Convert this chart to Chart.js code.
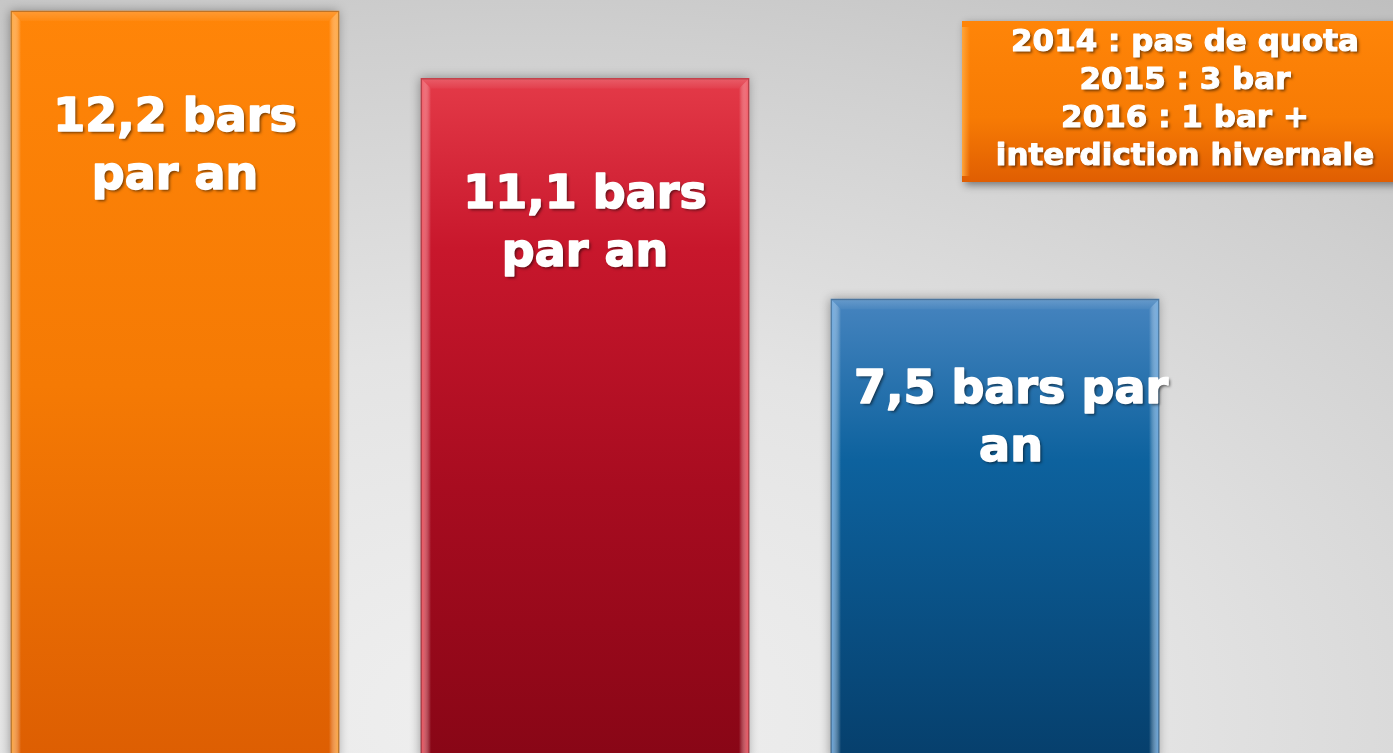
<!DOCTYPE html>
<html>
<head>
<meta charset="utf-8">
<script src="https://cdn.jsdelivr.net/npm/chart.js@4.4.1/dist/chart.umd.min.js"></script>
<style>
html, body {
    margin: 0;
    padding: 0;
    width: 1393px;
    height: 753px;
    overflow: hidden;
    background: radial-gradient(ellipse 110% 120% at 38% 95%, #f0f0f0 0%, #e4e4e4 40%, #cfcfcf 75%, #bdbdbd 100%);
}
#wrap {
    position: relative;
    width: 1393px;
    height: 759px;
}
</style>
</head>
<body>
<div id="wrap"><canvas id="barsChart" width="1393" height="759"></canvas></div>
<script>
// data
const years = ["2014", "2015", "2016"];
const barsPerYear = [12.2, 11.1, 7.5];
const barLabels = [
    ["12,2 bars", "par an"],
    ["11,1 bars", "par an"],
    ["7,5 bars par", "an"]
];
const noteLines = [
    "2014 : pas de quota",
    "2015 : 3 bar",
    "2016 : 1 bar +",
    "interdiction hivernale"
];

// styles
const barGradients = [
    [[0, "#ff8508"], [0.5, "#f57a04"], [1, "#dd5e02"]],
    [[0, "#e43a48"], [0.25, "#c8172c"], [0.6, "#a80c20"], [1, "#880616"]],
    [[0, "#4684bf"], [0.35, "#0d629e"], [1, "#063f6c"]]
];
const edgeColors = ["#ffa53a", "#f2505c", "#68a6de"];
const labelBaselines = [120, 130, 104]; // px below bar top
const labelShiftX = [0, 0, 16];
const labelLineGap = 58;

const ctx = document.getElementById("barsChart");

function barFill(context){
    const chart = context.chart;
    const area = chart.chartArea;
    if (!area) return "#888";
    const i = context.dataIndex;
    const yTop = chart.scales.y.getPixelForValue(barsPerYear[i]);
    const g = chart.ctx.createLinearGradient(0, yTop, 0, area.bottom);
    barGradients[i].forEach(s => g.addColorStop(s[0], s[1]));
    return g;
}

function boldText(c, text, x, y){
    c.fillText(text, x, y);
    c.shadowColor = "transparent";
    c.strokeText(text, x, y);
}

const bevelPlugin = {
    id: "bevel",
    beforeDatasetDraw(chart){
        const c = chart.ctx;
        c.save();
        c.shadowColor = "rgba(0,0,0,0.35)";
        c.shadowBlur = 10;
        c.shadowOffsetX = -1;
        c.shadowOffsetY = 0;
    },
    afterDatasetDraw(chart){
        const c = chart.ctx;
        c.restore();
        const meta = chart.getDatasetMeta(0);
        meta.data.forEach((bar, i) => {
            const left = bar.x - bar.width / 2;
            const right = bar.x + bar.width / 2;
            const top = bar.y;
            const bottom = bar.base;
            const b = 10;
            c.save();
            // side edges
            let g = c.createLinearGradient(left, 0, left + b, 0);
            g.addColorStop(0, edgeColors[i]);
            g.addColorStop(1, "rgba(255,255,255,0)");
            c.fillStyle = g;
            c.beginPath();
            c.moveTo(left, top);
            c.lineTo(left + b, top + b);
            c.lineTo(left + b, bottom);
            c.lineTo(left, bottom);
            c.closePath();
            c.fill();
            g = c.createLinearGradient(right, 0, right - b, 0);
            g.addColorStop(0, edgeColors[i]);
            g.addColorStop(1, "rgba(255,255,255,0)");
            c.fillStyle = g;
            c.beginPath();
            c.moveTo(right, top);
            c.lineTo(right - b, top + b);
            c.lineTo(right - b, bottom);
            c.lineTo(right, bottom);
            c.closePath();
            c.fill();
            // top edge
            g = c.createLinearGradient(0, top, 0, top + b);
            g.addColorStop(0, "rgba(255,255,255,0.18)");
            g.addColorStop(1, "rgba(255,255,255,0.04)");
            c.fillStyle = g;
            c.beginPath();
            c.moveTo(left, top);
            c.lineTo(right, top);
            c.lineTo(right - b, top + b);
            c.lineTo(left + b, top + b);
            c.closePath();
            c.fill();
            c.strokeStyle = "rgba(0,0,0,0.25)";
            c.lineWidth = 1;
            c.strokeRect(left + 0.5, top + 0.5, bar.width - 1, bottom - top);
            c.restore();

            // label
            barLabels[i].forEach((line, k) => {
                c.save();
                c.font = "bold 46px 'DejaVu Sans', Verdana, sans-serif";
                c.fillStyle = "#ffffff";
                c.strokeStyle = "#ffffff";
                c.lineWidth = 1.6;
                c.lineJoin = "round";
                c.textAlign = "center";
                c.textBaseline = "alphabetic";
                c.shadowColor = "rgba(0,0,0,0.55)";
                c.shadowBlur = 3;
                c.shadowOffsetX = 2;
                c.shadowOffsetY = 2;
                boldText(c, line, bar.x + labelShiftX[i], top + labelBaselines[i] + k * labelLineGap);
                c.restore();
            });
        });
    },
    afterDraw(chart){
        // note box, top right
        const c = chart.ctx;
        const bx = 962, by = 21, bw = 440, bh = 161;
        c.save();
        c.shadowColor = "rgba(0,0,0,0.45)";
        c.shadowBlur = 8;
        c.shadowOffsetX = 3;
        c.shadowOffsetY = 3;
        const g = c.createLinearGradient(0, by, 0, by + bh);
        g.addColorStop(0, "#ff8508");
        g.addColorStop(0.6, "#f77b04");
        g.addColorStop(1, "#e05e02");
        c.fillStyle = g;
        c.fillRect(bx, by, bw, bh);
        c.restore();
        c.save();
        const eg = c.createLinearGradient(bx, 0, bx + 8, 0);
        eg.addColorStop(0, "#ffa53a");
        eg.addColorStop(1, "rgba(255,165,58,0)");
        c.fillStyle = eg;
        c.fillRect(bx, by + 6, 8, bh - 12);
        c.restore();
        noteLines.forEach((line, k) => {
            c.save();
            c.font = "bold 31px 'DejaVu Sans', Verdana, sans-serif";
            c.fillStyle = "#ffffff";
            c.strokeStyle = "#ffffff";
            c.lineWidth = 1.1;
            c.lineJoin = "round";
            c.textAlign = "center";
            c.shadowColor = "rgba(0,0,0,0.55)";
            c.shadowBlur = 3;
            c.shadowOffsetX = 2;
            c.shadowOffsetY = 2;
            boldText(c, line, 1185, 51 + k * 38);
            c.restore();
        });
    }
};

const barsChart = new Chart(ctx, {
    type: "bar",
    data: {
        labels: years,
        datasets: [{
            data: barsPerYear,
            backgroundColor: barFill,
            borderWidth: 0,
            barThickness: 328,
            clip: false
        }]
    },
    options: {
        responsive: false,
        maintainAspectRatio: false,
        animation: false,
        layout: {
            padding: { top: 11, left: 175, right: 398, bottom: 0 }
        },
        plugins: {
            legend: { display: false },
            tooltip: { enabled: false }
        },
        scales: {
            x: {
                display: false,
                offset: false,
                grid: { display: false }
            },
            y: {
                display: false,
                min: 0,
                max: 12.2,
                grid: { display: false }
            }
        }
    },
    plugins: [bevelPlugin]
});
</script>
</body>
</html>
